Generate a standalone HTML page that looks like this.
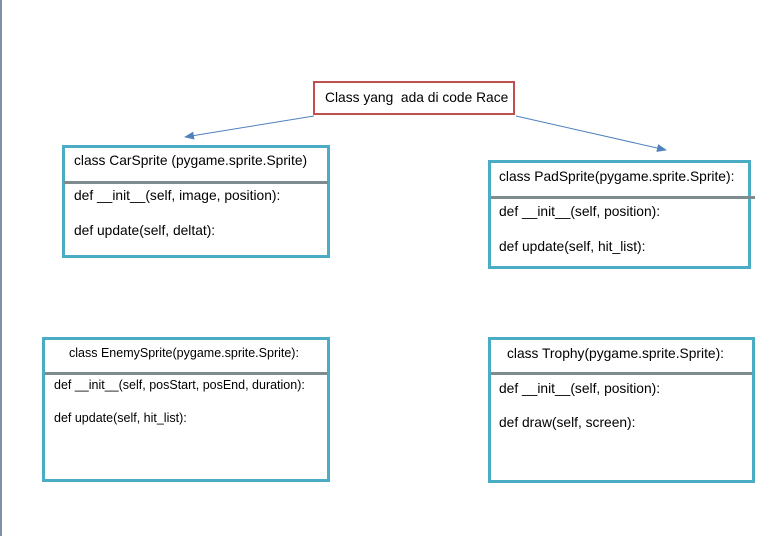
<!DOCTYPE html>
<html><head><meta charset="utf-8"><style>
body{margin:0;width:779px;height:536px;background:#fff;position:relative;overflow:hidden;font-family:"Liberation Sans",Arial,sans-serif;font-size:13.8px;color:#000}
.b{position:absolute;box-sizing:border-box;border:3px solid #4bacc6;background:#fff}
.d{position:absolute;height:3px;background:#7f8c8f}
.t{position:absolute;white-space:nowrap}
</style></head><body>
<div style="position:absolute;left:0;top:0;width:2px;height:536px;background:#7f8fa6"></div>
<svg width="779" height="536" style="position:absolute;left:0;top:0">
<defs><marker id="a" markerWidth="10" markerHeight="8" refX="9" refY="4" orient="auto" markerUnits="userSpaceOnUse"><path d="M0,0L10,4L0,8z" fill="#4f81bd"/></marker></defs>
<line x1="314" y1="116" x2="185" y2="137" stroke="#4f81bd" stroke-width="1" marker-end="url(#a)"/>
<line x1="516" y1="116" x2="666" y2="150" stroke="#4f81bd" stroke-width="1" marker-end="url(#a)"/>
</svg>
<div style="position:absolute;left:313px;top:81px;width:202px;height:34px;box-sizing:border-box;border:2px solid #c0504d;background:#fff"></div>
<div class="t" style="left:325px;top:90px">Class yang&nbsp; ada di code Race</div>

<div class="b" style="left:62px;top:145px;width:268px;height:113px"></div>
<div class="d" style="left:64px;top:181px;width:264px"></div>
<div class="t" style="left:74px;top:153px">class CarSprite (pygame.sprite.Sprite)</div>
<div class="t" style="left:74px;top:188px">def __init__(self, image, position):</div>
<div class="t" style="left:74px;top:223px">def update(self, deltat):</div>

<div class="b" style="left:488px;top:160px;width:263px;height:109px"></div>
<div class="d" style="left:491px;top:196px;width:264px"></div>
<div class="t" style="left:499px;top:169px">class PadSprite(pygame.sprite.Sprite):</div>
<div class="t" style="left:499px;top:204px">def __init__(self, position):</div>
<div class="t" style="left:499px;top:239px">def update(self, hit_list):</div>

<div class="b" style="left:42px;top:337px;width:288px;height:145px"></div>
<div class="d" style="left:45px;top:372px;width:282px"></div>
<div class="t" style="left:69px;top:346px;font-size:12.5px">class EnemySprite(pygame.sprite.Sprite):</div>
<div class="t" style="left:54px;top:378px;font-size:12.5px">def __init__(self, posStart, posEnd, duration):</div>
<div class="t" style="left:54px;top:411px;font-size:12.5px">def update(self, hit_list):</div>

<div class="b" style="left:488px;top:337px;width:267px;height:146px"></div>
<div class="d" style="left:491px;top:372px;width:261px"></div>
<div class="t" style="left:507px;top:346px">class Trophy(pygame.sprite.Sprite):</div>
<div class="t" style="left:499px;top:381px">def __init__(self, position):</div>
<div class="t" style="left:499px;top:415px">def draw(self, screen):</div>
</body></html>
